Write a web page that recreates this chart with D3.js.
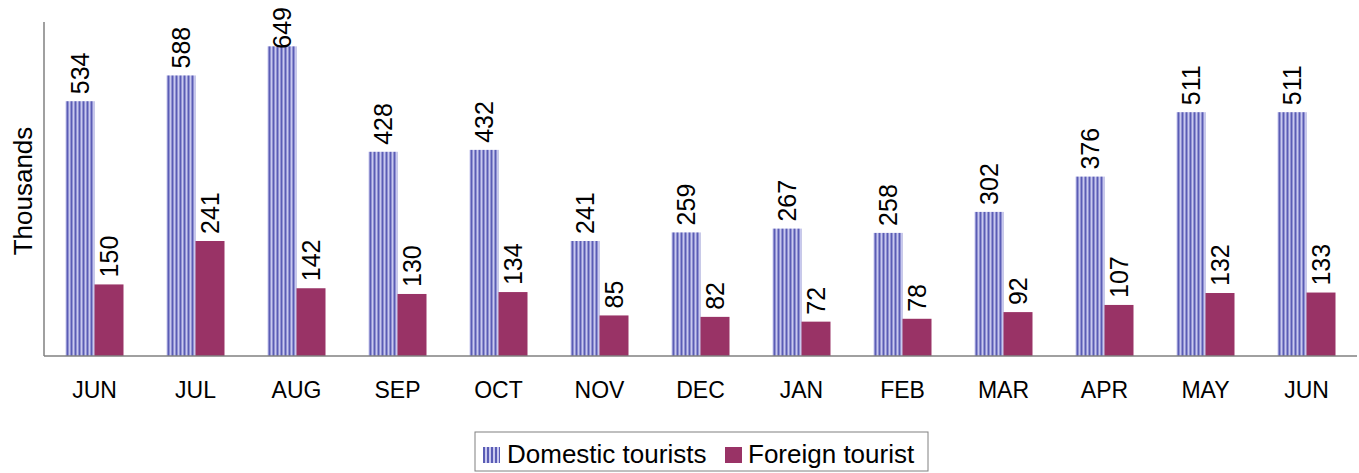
<!DOCTYPE html>
<html>
<head>
<meta charset="utf-8">
<script src="https://cdn.jsdelivr.net/npm/d3@7"></script>
<style>
  body { margin: 0; background: #fff; }
  text { font-family: "Liberation Sans", Arial, sans-serif; fill: #000; }
</style>
</head>
<body>
<div id="chart"></div>
<script>
//**************************************************************************
//** Data
//**************************************************************************
var months = ["JUN","JUL","AUG","SEP","OCT","NOV","DEC","JAN","FEB","MAR","APR","MAY","JUN"];
var domestic = [534, 588, 649, 428, 432, 241, 259, 267, 258, 302, 376, 511, 511];
var foreign = [150, 241, 142, 130, 134, 85, 82, 72, 78, 92, 107, 132, 133];
var seriesNames = ["Domestic tourists", "Foreign tourist"];

var width = 1359, height = 473;
var margin = {top: 22, right: 2, bottom: 117, left: 44};
var plotW = width - margin.left - margin.right;
var plotH = height - margin.top - margin.bottom;

var svg = d3.select("#chart").append("svg")
    .attr("width", width)
    .attr("height", height);

//stripe pattern for domestic bars
var defs = svg.append("defs");
var pat = defs.append("pattern")
    .attr("id", "stripes")
    .attr("patternUnits", "userSpaceOnUse")
    .attr("width", 4)
    .attr("height", 4);
pat.append("rect").attr("width", 4).attr("height", 4).attr("fill", "#c9c9ef");
pat.append("rect").attr("width", 2).attr("height", 4).attr("fill", "#5a5cb5");

var g = svg.append("g").attr("transform", "translate(" + margin.left + "," + margin.top + ")");

var x = d3.scaleBand()
    .domain(d3.range(months.length))
    .range([0, plotW]);

var y = d3.scaleLinear()
    .domain([0, 700])
    .range([plotH, 0]);

var barW = 29;
var labelSize = 25;
var labelGap = 7;

//label end position, pushed down when it would run off the top
var labelY = function(v){
    var len = String(v).length * 0.556 * labelSize;
    return Math.max(y(v) - labelGap, 7 - margin.top + len);
};

//bars
var groups = g.selectAll(".grp")
    .data(months)
    .enter()
    .append("g")
    .attr("transform", function(d, i){ return "translate(" + (x(i) + x.bandwidth()/2) + ",0)"; });

groups.append("rect")
    .attr("x", -barW)
    .attr("width", barW)
    .attr("y", function(d, i){ return y(domestic[i]); })
    .attr("height", function(d, i){ return plotH - y(domestic[i]); })
    .attr("fill", "url(#stripes)");

groups.append("rect")
    .attr("x", 0)
    .attr("width", barW)
    .attr("y", function(d, i){ return y(foreign[i]); })
    .attr("height", function(d, i){ return plotH - y(foreign[i]); })
    .attr("fill", "#993366");

//value labels (rotated, centred on each bar)
groups.append("text")
    .attr("transform", function(d, i){ return "translate(" + (-barW/2 + 9) + "," + labelY(domestic[i]) + ") rotate(-90)"; })
    .style("font-size", labelSize + "px")
    .text(function(d, i){ return domestic[i]; });

groups.append("text")
    .attr("transform", function(d, i){ return "translate(" + (barW/2 + 9) + "," + labelY(foreign[i]) + ") rotate(-90)"; })
    .style("font-size", labelSize + "px")
    .text(function(d, i){ return foreign[i]; });

//axes
g.append("line")
    .attr("x1", 0).attr("x2", 0)
    .attr("y1", 0).attr("y2", plotH)
    .attr("stroke", "#808080").attr("stroke-width", 1.5);

g.append("line")
    .attr("x1", 0).attr("x2", plotW)
    .attr("y1", plotH).attr("y2", plotH)
    .attr("stroke", "#808080").attr("stroke-width", 1.5);

var xAxis = g.append("g")
    .attr("transform", "translate(0," + plotH + ")")
    .call(d3.axisBottom(x).tickSize(0).tickPadding(26).tickFormat(function(i){ return months[i]; }));
xAxis.select(".domain").remove();
xAxis.selectAll("text")
    .style("font-size", "23px")
    .style("font-family", "'Liberation Sans', Arial, sans-serif")
    .attr("fill", "#000");

//y axis title
svg.append("text")
    .attr("transform", "translate(32," + (margin.top + plotH/2 + 2) + ") rotate(-90)")
    .attr("text-anchor", "middle")
    .style("font-size", "26px")
    .text("Thousands");

//legend
var legend = svg.append("g").attr("transform", "translate(475,432)");
legend.append("rect")
    .attr("width", 453).attr("height", 39)
    .attr("fill", "#fff").attr("stroke", "#808080").attr("stroke-width", 1);
legend.append("rect")
    .attr("x", 8).attr("y", 15).attr("width", 17).attr("height", 16)
    .attr("fill", "url(#stripes)");
legend.append("text")
    .attr("x", 32).attr("y", 31)
    .style("font-size", "26px")
    .text(seriesNames[0]);
legend.append("rect")
    .attr("x", 250).attr("y", 15).attr("width", 17).attr("height", 16)
    .attr("fill", "#993366");
legend.append("text")
    .attr("x", 273).attr("y", 31)
    .style("font-size", "26px")
    .text(seriesNames[1]);
</script>
</body>
</html>
